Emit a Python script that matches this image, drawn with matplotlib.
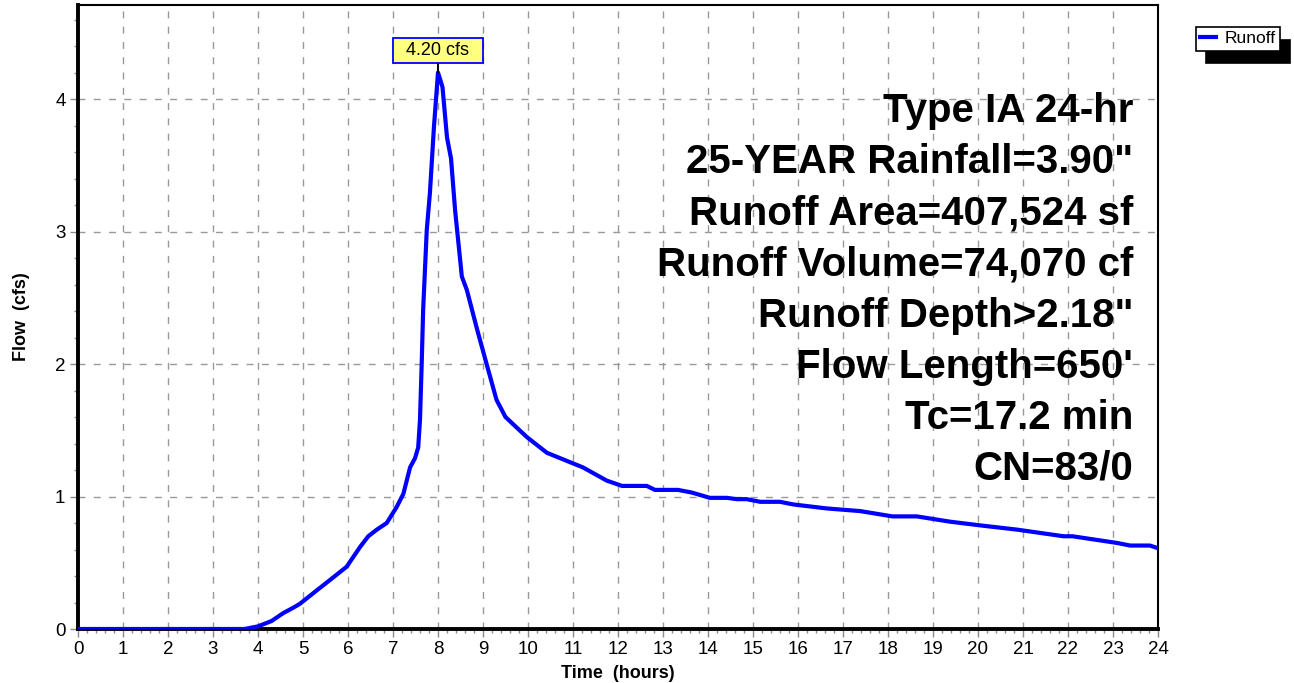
import numpy as np
import matplotlib.pyplot as plt
from matplotlib.ticker import MultipleLocator

plt.rcParams['font.family'] = ['Liberation Sans', 'DejaVu Sans']

# hydrograph (hours, cfs)
time_hr = [0, 3.7, 4.0, 4.3, 4.56, 4.78, 4.93, 5.3, 5.6, 5.97, 6.27, 6.45, 6.64, 6.86,
           7.08, 7.23, 7.38, 7.49, 7.56, 7.6, 7.64, 7.67, 7.75, 7.82, 7.91, 8.0, 8.1,
           8.2, 8.29, 8.38, 8.53, 8.64, 8.87, 9.08, 9.3, 9.5, 9.97, 10.42, 11.0, 11.22,
           11.75, 12.09, 12.64, 12.82, 13.33, 13.64, 14.04, 14.42, 14.64, 14.86, 15.16,
           15.6, 15.9, 16.64, 17.38, 18.1, 18.64, 19.38, 20.1, 20.87, 21.9, 22.1, 23.08,
           23.38, 23.82, 24.0]
flow_cfs = [0, 0, 0.02, 0.06, 0.12, 0.16, 0.19, 0.29, 0.37, 0.47, 0.62, 0.70, 0.75, 0.80,
            0.92, 1.02, 1.22, 1.29, 1.37, 1.58, 2.03, 2.41, 3.01, 3.29, 3.79, 4.20, 4.09,
            3.71, 3.55, 3.16, 2.66, 2.56, 2.26, 2.0, 1.73, 1.6, 1.45, 1.33, 1.25, 1.22,
            1.12, 1.08, 1.08, 1.05, 1.05, 1.03, 0.99, 0.99, 0.98, 0.98, 0.96,
            0.96, 0.94, 0.91, 0.89, 0.85, 0.85, 0.81, 0.78, 0.75, 0.70, 0.70, 0.65,
            0.63, 0.63, 0.61]

peak_label = '4.20 cfs'
info_lines = ['Type IA 24-hr',
              '25-YEAR Rainfall=3.90"',
              'Runoff Area=407,524 sf',
              'Runoff Volume=74,070 cf',
              'Runoff Depth>2.18"',
              "Flow Length=650'",
              'Tc=17.2 min',
              'CN=83/0']

fig = plt.figure(figsize=(12.94, 6.83), dpi=100)
ax = fig.add_axes([78 / 1294, 54 / 683, 1080 / 1294, 624 / 683])

ax.plot(time_hr, flow_cfs, color='#0000ff', lw=3.0, label='Runoff', zorder=3,
        solid_joinstyle='round')

ax.set_xlim(0, 24)
ax.set_ylim(0, 4.71)
ax.xaxis.set_major_locator(MultipleLocator(1))
ax.xaxis.set_minor_locator(MultipleLocator(0.2))
ax.yaxis.set_major_locator(MultipleLocator(1))
ax.yaxis.set_minor_locator(MultipleLocator(0.2))
ax.tick_params(which='major', length=6, width=1, color='0.55', labelsize=13.5, pad=3)
ax.tick_params(which='minor', length=3, width=1, color='0.55')

ax.grid(True, which='major', color='0.6', linestyle=(0, (5, 6)), lw=1)

for s in ['left', 'bottom']:
    ax.spines[s].set_linewidth(2.8)
for s in ['top', 'right']:
    ax.spines[s].set_linewidth(1.5)

ax.set_xlabel('Time  (hours)', fontsize=13, fontweight='bold', labelpad=5)
ax.set_ylabel('Flow  (cfs)', fontsize=13, fontweight='bold', labelpad=18)

# peak flag
i_pk = int(np.argmax(flow_cfs))
ax.annotate('  ' + peak_label + '  ', xy=(time_hr[i_pk], flow_cfs[i_pk]), xytext=(0, 10),
            textcoords='offset points', ha='center', va='bottom', fontsize=13,
            bbox=dict(boxstyle='square,pad=0.22', fc='#ffff80', ec='#0000ff', lw=1.3),
            arrowprops=dict(arrowstyle='-', color='black', lw=1.4, shrinkA=0, shrinkB=0))

# info block
for k, line in enumerate(info_lines):
    ax.text(0.977, 0.83 - k * 0.0819, line, transform=ax.transAxes, ha='right',
            va='center', fontsize=29, fontweight='bold', zorder=4)

leg = fig.legend(loc='upper right', bbox_to_anchor=(1280 / 1294, 1 - 27 / 683),
                 fontsize=12.5, frameon=True, fancybox=False, edgecolor='black',
                 framealpha=1, handlelength=0.9, handletextpad=0.5, borderpad=0.25,
                 borderaxespad=0, shadow={'color': 'black', 'alpha': 1, 'ox': 7, 'oy': -9})
leg.get_frame().set_linewidth(1.2)

fig.savefig('out.png', dpi=100)
